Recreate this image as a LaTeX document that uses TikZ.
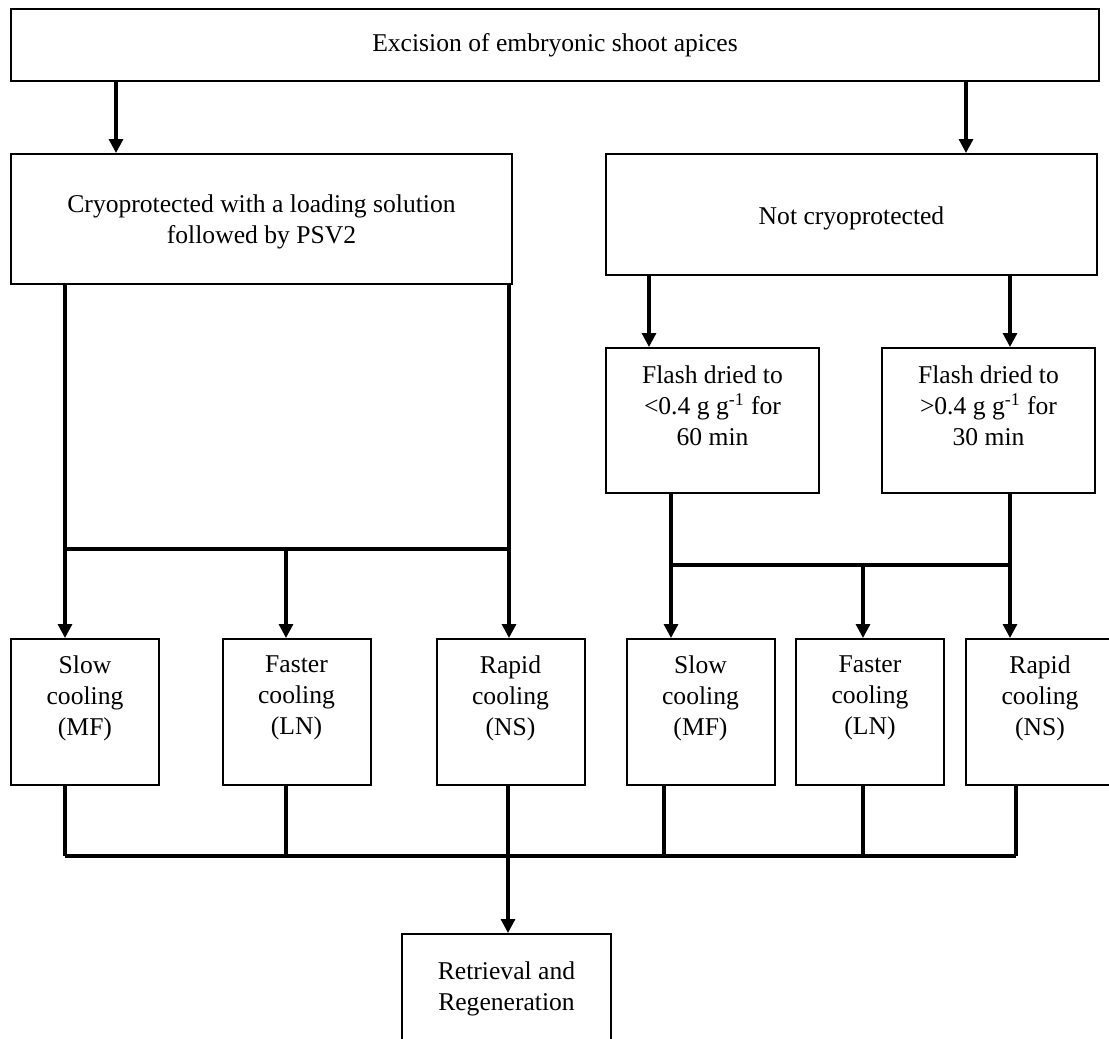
\documentclass[tikz,border=0pt]{standalone}
\usepackage{fontspec}
\setmainfont{Liberation Serif}
\usetikzlibrary{arrows.meta}
\tikzset{
	box/.style={draw, line width=1pt, inner sep=0pt},
	boxtext/.style={align=center},
	link/.style={line width=1.6pt},
	arr/.style={link, -{Triangle[length=7pt, width=7pt]}},
}
\begin{document}
\begin{tikzpicture}[x=0.5pt, y=-0.5pt, font=\fontsize{12.8}{15.5}\selectfont, line join=miter]
			\useasboundingbox (0,0) rectangle (1109,1039);
			\clip (0,0) rectangle (1109,1039);
			% boxes
			\node[box, boxtext, minimum width=544pt, minimum height=36pt] (excision) at (555,45) {Excision of embryonic shoot apices};
			\node[box, minimum width=250.5pt, minimum height=65pt,
			label={[boxtext, yshift=-1.5pt]center:{Cryoprotected with a loading solution\\followed by PSV2}}] (cryo) at (261.5,219) {};
			\node[box, minimum width=245.5pt, minimum height=60.5pt,
			label={[boxtext, yshift=-2pt]center:{Not cryoprotected}}] (notcryo) at (851.5,214.5) {};
			\node[box, minimum width=106.5pt, minimum height=72.5pt,
			label={[boxtext, yshift=7.5pt]center:{Flash dried to\\<0.4 g g\textsuperscript{-1} for\\60 min}}] (flashA) at (712.5,420.5) {};
			\node[box, minimum width=106.5pt, minimum height=72.5pt,
			label={[boxtext, yshift=7.5pt]center:{Flash dried to\\>0.4 g g\textsuperscript{-1} for\\30 min}}] (flashB) at (988.5,420.5) {};
			\foreach \n/\x/\w/\m in {slowA/85/Slow/MF, fastA/296.5/Faster/LN, rapidA/510.5/Rapid/NS,
				slowB/700.5/Slow/MF, fastB/870/Faster/LN, rapidB/1040/Rapid/NS}
			\node[box, minimum width=74pt, minimum height=73pt,
			label={[boxtext, yshift=7pt]center:{\w\\cooling\\(\m)}}] (\n) at (\x,712) {};
			\node[box, minimum width=104.5pt, minimum height=60pt,
			label={[boxtext, yshift=2.5pt]center:{Retrieval and\\Regeneration}}] (retrieval) at (506.5,994) {};
			% first split
			\coordinate (outL) at (116,81);
			\coordinate (outR) at (966,81);
			\draw[arr] (outL) -- (outL |- cryo.north);
			\draw[arr] (outR) -- (outR |- notcryo.north);
			% cryoprotected branch
			\coordinate (busAl) at (65,549);
			\coordinate (busAm) at (286,549);
			\coordinate (busAr) at (509,549);
			\draw[link] (cryo.south -| busAl) -- (busAl) -- (busAr) -- (cryo.south -| busAr);
			\draw[arr] (busAl) -- (busAl |- slowA.north);
			\draw[arr] (busAm) -- (busAm |- fastA.north);
			\draw[arr] (busAr) -- (busAr |- rapidA.north);
			% not cryoprotected branch
			\coordinate (dropA) at (649,275);
			\coordinate (dropB) at (1010,275);
			\draw[arr] (dropA) -- (dropA |- flashA.north);
			\draw[arr] (dropB) -- (dropB |- flashB.north);
			\coordinate (busBl) at (671,565);
			\coordinate (busBm) at (863,565);
			\coordinate (busBr) at (1010,565);
			\draw[link] (flashA.south -| busBl) -- (busBl) -- (busBr) -- (flashB.south -| busBr);
			\draw[arr] (busBl) -- (busBl |- slowB.north);
			\draw[arr] (busBm) -- (busBm |- fastB.north);
			\draw[arr] (busBr) -- (busBr |- rapidB.north);
			% joining all cooling steps
			\foreach \n/\x in {slowA/65, fastA/286, rapidA/508, slowB/664, fastB/863, rapidB/1016}
			{
				\coordinate (join\n) at (\x,856);
				\draw[link] (\n.south -| join\n) -- (join\n);
			}
			\draw[link] (joinslowA) -- (joinrapidB);
			\draw[arr] (joinrapidA) -- (joinrapidA |- retrieval.north);
	\end{tikzpicture}
\end{document}
